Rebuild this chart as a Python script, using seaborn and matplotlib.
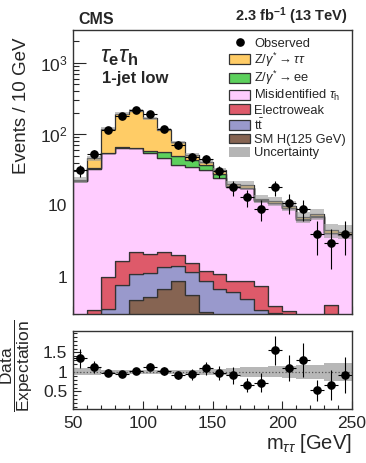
import numpy as np
import pandas as pd
import matplotlib
matplotlib.use("Agg")
import matplotlib.pyplot as plt
import seaborn as sns
from matplotlib.patches import Patch
from matplotlib.lines import Line2D
from matplotlib.ticker import FixedLocator, FixedFormatter, MultipleLocator, LogLocator, NullFormatter

# ---------------- data ----------------
bin_edges = [50, 60, 70, 80, 90, 100, 110, 120, 130, 140, 150,
             160, 170, 180, 190, 200, 210, 220, 230, 240, 250]
bin_centers = [55, 65, 75, 85, 95, 105, 115, 125, 135, 145,
               155, 165, 175, 185, 195, 205, 215, 225, 235, 245]

observed = [31, 52, 115, 183, 219, 191, 118, 71, 48, 45,
            30, 18, 13, 9, 18, 11, 9, 4, 3, 4]

ztt = [1.1, 13, 63.5, 127, 149, 109, 58, 28.3, 7.2, 4.0,
       3.2, 1.1, 1.8, 0.5, 0.6, 0.6, 0.5, 0.5, 0.35, 0.35]
zee = [0.2, 0.3, 0.5, 0.8, 1.0, 4.0, 11.0, 11.7, 8.8, 5.4,
       3.8, 0.4, 0.3, 0.2, 0.2, 0.1, 0.1, 0.1, 0.05, 0.05]
misid = [21.65, 32.4, 53, 63.4, 61.7, 52.9, 43.8, 35, 33.4, 30.4,
         22.9, 17.4, 16.5, 11.0, 10.4, 8.9, 6.1, 6.9, 3.7, 3.8]
ewk = [0.05, 0.19, 0.65, 0.87, 1.18, 0.96, 0.85, 0.6, 0.43, 0.31,
       0.43, 0.24, 0.38, 0.39, 0.08, 0.13, 0.1, 0.05, 0.3, 0.05]
ttbar = [0, 0.15, 0.35, 0.72, 0.61, 0.62, 0.67, 0.54, 0.59, 0.56,
         0.57, 0.57, 0.45, 0.32, 0.31, 0.2, 0.1, 0.05, 0.1, 0.05]
higgs = [0, 0, 0, 0.05, 0.47, 0.52, 0.68, 0.86, 0.56, 0.32,
         0.1, 0.05, 0.03, 0.02, 0, 0, 0, 0, 0, 0]
unc_rel = [0.09, 0.09, 0.06, 0.05, 0.05, 0.05, 0.05, 0.05, 0.06, 0.07,
           0.08, 0.10, 0.12, 0.13, 0.14, 0.15, 0.17, 0.19, 0.22, 0.22]

proc_names = ["ztt", "zee", "misid", "ewk", "ttbar", "higgs"]
proc_labels = [r"Z/$\gamma^{*}\rightarrow\tau\tau$",
               r"Z/$\gamma^{*}\rightarrow$ee",
               r"Misidentified $\tau_{\rm h}$",
               "Electroweak",
               r"t$\bar{\rm t}$",
               "SM H(125 GeV)"]
proc_colors = ["#FFCC66", "#5CD05C", "#FFCCFF", "#DE5A6A", "#9999CC", "#866452"]

yticks_top = [1, 10, 100, 1000]
yticklabels_top = ["1", "10", r"$10^{2}$", r"$10^{3}$"]
xticks = [50, 100, 150, 200, 250]
ratio_ticks = [0.5, 1, 1.5]
ratio_ticklabels = ["0.5", "1", "1.5"]

# ---------------- style ----------------
sns.set_style("ticks")
plt.rcParams["font.family"] = ["Liberation Sans", "DejaVu Sans"]
plt.rcParams["mathtext.fontset"] = "custom"
plt.rcParams["mathtext.rm"] = "Liberation Sans"
plt.rcParams["mathtext.it"] = "Liberation Sans:italic"
plt.rcParams["mathtext.bf"] = "Liberation Sans:bold"
plt.rcParams["axes.edgecolor"] = "#333333"
plt.rcParams["axes.linewidth"] = 1.0

W, H = 366, 463
fig = plt.figure(figsize=(W / 100, H / 100), dpi=100)
ax1 = fig.add_axes([73 / W, 1 - 314 / H, 279 / W, 284 / H])
ax2 = fig.add_axes([73 / W, 1 - 409 / H, 279 / W, 78 / H])

# ---------------- upper panel ----------------
frames = []
for name, vals in zip(proc_names, [ztt, zee, misid, ewk, ttbar, higgs]):
    frames.append(pd.DataFrame({"mass": bin_centers, "events": vals, "process": name}))
df = pd.concat(frames, ignore_index=True)

ax1.set_yscale("log")
sns.histplot(data=df, x="mass", weights="events", hue="process",
             hue_order=proc_names, palette=dict(zip(proc_names, proc_colors)),
             multiple="stack", bins=bin_edges, element="step", fill=True,
             alpha=1.0, linewidth=0.9, edgecolor="#333333", legend=False, ax=ax1)

total = np.sum([ztt, zee, misid, ewk, ttbar, higgs], axis=0)
unc = np.array(unc_rel)
ax1.stairs(total * (1 + unc), bin_edges, baseline=total * (1 - unc), fill=True,
           color="#9a9a9a", alpha=0.6, linewidth=0, zorder=5)

obs = np.array(observed, dtype=float)
obs_err = np.sqrt(obs)
ax1.errorbar(bin_centers, obs, yerr=obs_err, xerr=5, fmt="o", color="black",
             ms=5.2, elinewidth=0.8, capsize=0, zorder=10)

ax1.set_xlim(50, 250)
ax1.set_ylim(0.3, 2900)
ax1.set_xlabel("")
ax1.set_ylabel("Events / 10 GeV", fontsize=13.5)
ax1.yaxis.set_label_coords(-0.155, 0.735)
ax1.yaxis.set_major_locator(FixedLocator(yticks_top))
ax1.yaxis.set_major_formatter(FixedFormatter(yticklabels_top))
ax1.yaxis.set_minor_locator(LogLocator(base=10, subs=np.arange(2, 10)))
ax1.yaxis.set_minor_formatter(NullFormatter())
ax1.xaxis.set_major_locator(FixedLocator(xticks))
ax1.xaxis.set_minor_locator(MultipleLocator(10))
ax1.tick_params(axis="x", which="both", labelbottom=False, direction="in")
ax1.tick_params(axis="x", which="major", length=6, width=0.8)
ax1.tick_params(axis="x", which="minor", length=3, width=0.8)
ax1.tick_params(axis="y", which="major", length=9, width=0.8, direction="in", labelsize=12.5, pad=4)
ax1.tick_params(axis="y", which="minor", length=4.5, width=0.8, direction="in")
for s in ax1.spines.values():
    s.set_visible(True)
    s.set_zorder(20)

ax1.text(0.02, 1.012, "CMS", transform=ax1.transAxes, ha="left", va="bottom",
         fontsize=11.5, fontweight="bold")
ax1.text(0.985, 1.012, r"2.3 fb$^{\mathbf{-1}}$ (13 TeV)", transform=ax1.transAxes,
         ha="right", va="bottom", fontsize=10.5, fontweight="bold")
ax1.text(0.095, 0.905, r"$\tau_{\mathbf{e}}\tau_{\mathbf{h}}$", transform=ax1.transAxes,
         ha="left", va="center", fontsize=17)
ax1.text(0.105, 0.83, "1-jet low", transform=ax1.transAxes, ha="left", va="center",
         fontsize=12, fontweight="bold")

handles = [Line2D([], [], marker="o", color="black", linestyle="none", ms=5.2)]
labels = ["Observed"]
for lab, col in zip(proc_labels, proc_colors):
    handles.append(Patch(facecolor=col, edgecolor="#333333", linewidth=0.9))
    labels.append(lab)
handles.append(Patch(facecolor="#b5b5b5", edgecolor="none"))
labels.append("Uncertainty")
leg = ax1.legend(handles, labels, loc="upper left", bbox_to_anchor=(0.56, 0.975),
                 frameon=False, fontsize=9.3, handlelength=1.6, handleheight=0.8,
                 handletextpad=0.35, labelspacing=0.06, borderpad=0, borderaxespad=0)
leg.set_zorder(30)

# ---------------- ratio panel ----------------
ratio = obs / total
ratio_err = obs_err / total
ax2.stairs(1 + unc, bin_edges, baseline=1 - unc, fill=True, color="#b0b0b0",
           alpha=0.9, linewidth=0, zorder=1)
ax2.axhline(1, color="#555555", linestyle=":", linewidth=0.9, zorder=2)
ax2.errorbar(bin_centers, ratio, yerr=ratio_err, xerr=5, fmt="o", color="black",
             ms=5.2, elinewidth=0.8, capsize=0, zorder=10)
ax2.set_xlim(50, 250)
ax2.set_ylim(0.05, 2.05)
ax2.xaxis.set_major_locator(FixedLocator(xticks))
ax2.xaxis.set_minor_locator(MultipleLocator(10))
ax2.yaxis.set_major_locator(FixedLocator(ratio_ticks))
ax2.yaxis.set_major_formatter(FixedFormatter(ratio_ticklabels))
ax2.yaxis.set_minor_locator(MultipleLocator(0.1))
ax2.tick_params(axis="both", which="both", direction="in")
ax2.tick_params(axis="x", which="major", length=6, width=0.8, labelsize=12.5, pad=5)
ax2.tick_params(axis="x", which="minor", length=3, width=0.8)
ax2.tick_params(axis="y", which="major", length=6, width=0.8, labelsize=12.5, pad=4)
ax2.tick_params(axis="y", which="minor", length=3, width=0.8)
ax2.set_xlabel(r"m$_{\tau\tau}$ [GeV]", fontsize=14.5, loc="right", labelpad=1)
ax2.set_ylabel(r"$\dfrac{\rm Data}{\rm Expectation}$", fontsize=12.5)
ax2.yaxis.set_label_coords(-0.135, 0.56)
for s in ax2.spines.values():
    s.set_visible(True)
    s.set_zorder(20)

fig.savefig("out.png", dpi=100)
